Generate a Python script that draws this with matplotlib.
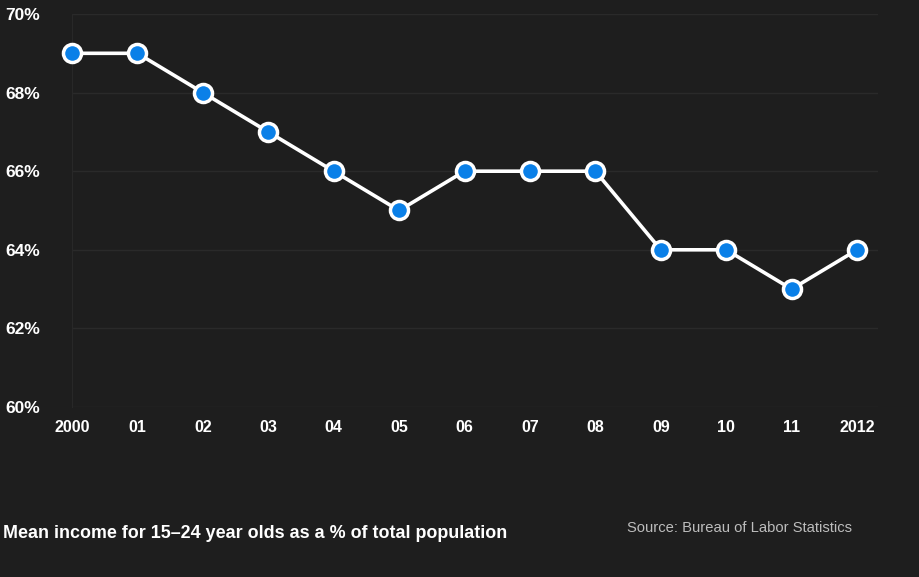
import matplotlib
matplotlib.use('Agg')
import matplotlib.pyplot as plt

plt.rcParams['font.family'] = ['Liberation Sans', 'DejaVu Sans']

# share of mean income, 15-24 year olds
years = ['2000', '01', '02', '03', '04', '05', '06', '07', '08', '09', '10', '11', '2012']
values = [69, 69, 68, 67, 66, 65, 66, 66, 66, 64, 64, 63, 64]
y_ticks = [60, 62, 64, 66, 68, 70]

bg = '#1e1e1e'
fig = plt.figure(figsize=(9.2, 5.77), dpi=100, facecolor=bg)
ax = fig.add_axes([72 / 920, 1 - 407 / 577, 806 / 920, 393 / 577])
ax.set_facecolor(bg)

x = list(range(len(years)))
ax.plot(x, values, color='white', lw=2.6, zorder=3,
        marker='o', markersize=13, markerfacecolor='#0a80e8',
        markeredgecolor='white', markeredgewidth=2.5, clip_on=False)

ax.set_xlim(0, 12.32)
ax.set_ylim(60, 70)
ax.set_xticks(x)
ax.set_xticklabels(years)
ax.set_yticks(y_ticks)
ax.set_yticklabels([f'{v}%' for v in y_ticks])

ax.grid(axis='y', color='#2a2a2a', lw=1)
ax.set_axisbelow(True)
for s in ['top', 'right', 'bottom']:
    ax.spines[s].set_visible(False)
ax.spines['left'].set_color('#282828')

ax.tick_params(axis='both', length=0, colors='white')
ax.tick_params(axis='y', pad=48, labelsize=12.5)
ax.tick_params(axis='x', pad=9, labelsize=11.5)
for lbl in ax.get_yticklabels():
    lbl.set_ha('left')
    lbl.set_fontweight('bold')
for lbl in ax.get_xticklabels():
    lbl.set_fontweight('bold')

fig.text(3 / 920, 1 - 534 / 577, 'Mean income for 15\u201324 year olds as a % of total population',
         color='white', fontsize=12.9, fontweight='bold', va='center', ha='left')
fig.text(627 / 920, 1 - 528 / 577, 'Source: Bureau of Labor Statistics',
         color='#bdbdbd', fontsize=10.6, va='center', ha='left')

fig.savefig('out.png', dpi=100, facecolor=bg)
